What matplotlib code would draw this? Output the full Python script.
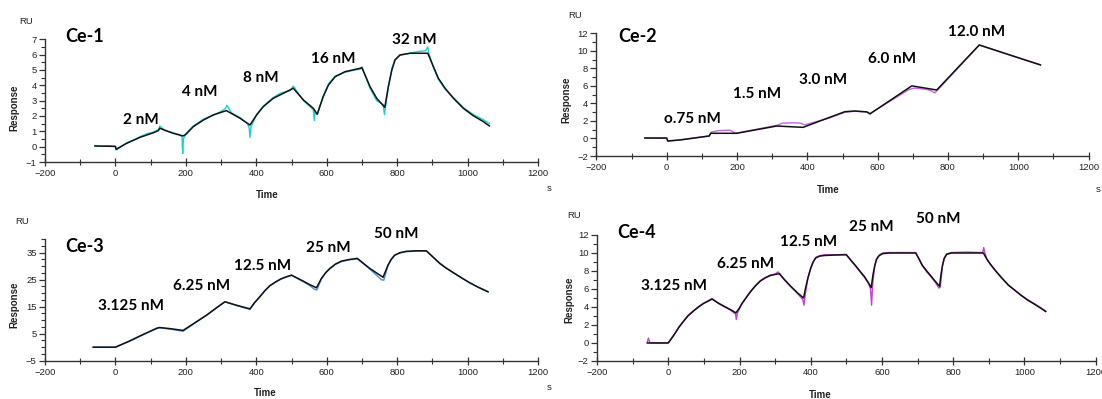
import matplotlib
matplotlib.use("Agg")
import matplotlib.pyplot as plt
from matplotlib.ticker import MultipleLocator, FixedLocator

# ---------------- data ----------------
ce1_fit_t = [-58, 0, 2, 32, 70, 108, 122, 126, 164, 192, 200, 221, 250, 278, 315, 354, 382, 401, 420, 448,
             496, 505, 534, 562, 573, 590, 605, 624, 652, 695, 700, 723, 742, 765, 775, 785, 794, 808, 837, 887,
             903, 917, 936, 960, 988, 1016, 1045, 1062]
ce1_fit_v = [0.04, 0.02, -0.17, 0.22, 0.61, 0.91, 1.05, 1.2, 0.87, 0.70, 0.80, 1.30, 1.74, 2.07, 2.35, 1.85, 1.41, 2.07, 2.61, 3.15,
             3.70, 3.81, 3.04, 2.50, 2.11, 3.26, 4.02, 4.56, 4.89, 5.11, 5.15, 3.91, 3.15, 2.57, 3.91, 5.00, 5.65, 5.98, 6.09, 6.09,
             5.22, 4.46, 3.81, 3.15, 2.50, 2.02, 1.63, 1.35]
ce1_meas_t = [-58, -40, -20, 0, 2, 10, 32, 50, 70, 90, 108, 122, 126, 140, 164, 180, 189, 191, 193, 200,
              221, 250, 278, 300, 313, 316, 330, 354, 375, 380, 382, 385, 401, 420, 448, 470, 496, 505, 534, 562,
              565, 567, 573, 590, 605, 624, 652, 680, 695, 700, 723, 742, 760, 764, 767, 775, 785, 794, 808, 837,
              860, 880, 887, 890, 903, 917, 936, 960, 988, 1016, 1045, 1062]
ce1_meas_v = [0.08, 0.02, 0.06, 0.0, -0.22, -0.1, 0.25, 0.42, 0.65, 0.85, 0.95, 1.1, 1.35, 1.05, 0.9, 0.8, 0.65, -0.45, 0.5, 0.85,
              1.35, 1.8, 2.05, 2.3, 2.5, 2.7, 2.2, 1.9, 1.5, 1.2, 0.6, 1.3, 2.1, 2.65, 3.2, 3.5, 3.65, 3.95, 3.0, 2.4,
              1.7, 2.3, 2.1, 3.3, 4.1, 4.6, 4.85, 5.0, 5.05, 5.2, 3.8, 3.0, 2.75, 2.1, 2.6, 3.9, 5.1, 5.7, 5.95, 6.1,
              6.2, 6.25, 6.5, 6.1, 5.15, 4.4, 3.75, 3.2, 2.55, 2.1, 1.75, 1.5]

ce2_fit_t = [-62, 0, 3, 38, 121, 125, 199, 313, 388, 464, 507, 535, 569, 578, 697, 705, 768, 889, 990, 1063]
ce2_fit_v = [0.05, 0.05, -0.29, -0.17, 0.28, 0.59, 0.59, 1.42, 1.27, 2.42, 3.06, 3.13, 3.03, 2.80, 6.00, 5.95, 5.53, 10.67, 9.34, 8.39]
ce2_meas_t = [-62, 0, 3, 38, 121, 128, 150, 180, 195, 200, 313, 330, 360, 380, 392, 464, 507, 535, 569, 578,
              690, 705, 740, 755, 762, 770, 889, 990, 1063]
ce2_meas_v = [0.05, 0.05, -0.3, -0.15, 0.3, 0.75, 0.9, 0.95, 0.6, 0.62, 1.5, 1.75, 1.8, 1.75, 1.55, 2.35, 3.0, 3.1, 3.05, 2.85,
              5.6, 5.75, 5.6, 5.4, 5.2, 5.5, 10.65, 9.35, 8.4]

ce3_fit_t = [-63, 0, 40, 80, 117, 125, 160, 192, 225, 259, 290, 311, 345, 382, 395, 410, 425, 438, 455, 470,
             486, 500, 533, 550, 571, 585, 597, 609, 625, 642, 665, 687, 722, 760, 774, 783, 793, 808, 826, 855,
             883, 900, 921, 940, 963, 985, 1006, 1030, 1058]
ce3_fit_v = [0.0, 0.0, 2.3, 4.8, 7.0, 7.3, 6.8, 6.2, 9.0, 11.9, 14.9, 16.8, 15.5, 14.2, 16.5, 18.7, 21.0, 22.7, 24.2, 25.3,
             26.1, 26.7, 24.5, 23.3, 22.0, 25.5, 27.6, 29.2, 30.8, 31.9, 32.5, 32.9, 29.2, 25.9, 30.4, 32.5, 34.1, 35.0, 35.5, 35.7,
             35.7, 33.6, 31.0, 29.2, 27.3, 25.5, 23.9, 22.2, 20.5]
ce3_meas_t = [-63, 0, 40, 80, 117, 125, 160, 192, 225, 259, 290, 311, 345, 382, 395, 410, 425, 438, 455, 470,
              486, 500, 533, 550, 566, 572, 585, 597, 609, 625, 642, 665, 687, 722, 755, 762, 774, 783, 793, 808,
              826, 855, 883, 900, 921, 940, 963, 985, 1006, 1030, 1058]
ce3_meas_v = [0.0, 0.0, 2.2, 4.7, 6.9, 7.2, 6.6, 5.9, 8.9, 11.8, 14.8, 16.9, 15.4, 14.0, 16.4, 18.6, 21.0, 22.8, 24.1, 25.2,
              26.0, 26.6, 24.3, 23.0, 21.4, 21.2, 25.3, 27.5, 29.0, 30.7, 31.7, 32.4, 32.7, 29.0, 25.0, 24.8, 30.2, 32.4, 34.0, 34.9,
              35.4, 35.6, 35.6, 33.7, 31.2, 29.3, 27.4, 25.6, 23.8, 22.3, 20.6]

ce4_fit_t = [-59, 0, 10, 19, 30, 42, 55, 71, 85, 99, 112, 123, 140, 156, 175, 190, 200, 207, 220, 231,
             245, 259, 273, 287, 300, 312, 325, 344, 362, 380, 385, 392, 400, 407, 414, 425, 438, 470, 500, 515,
             528, 540, 551, 562, 570, 575, 580, 585, 592, 602, 620, 695, 705, 713, 725, 737, 750, 762, 766, 770,
             775, 782, 795, 885, 895, 905, 918, 935, 955, 975, 992, 1010, 1029, 1045, 1060]
ce4_fit_v = [0.0, 0.0, 0.55, 1.07, 1.75, 2.37, 3.0, 3.56, 4.0, 4.4, 4.65, 4.88, 4.45, 4.1, 3.7, 3.35, 3.9, 4.4, 5.1, 5.7,
             6.35, 6.9, 7.25, 7.5, 7.62, 7.7, 7.1, 6.3, 5.6, 5.0, 6.0, 7.2, 8.3, 9.0, 9.45, 9.65, 9.72, 9.78, 9.8, 9.1,
             8.5, 7.9, 7.37, 6.7, 6.15, 7.6, 8.6, 9.3, 9.7, 9.93, 10.0, 10.0, 9.3, 8.67, 8.05, 7.48, 6.85, 6.3, 7.6, 8.6,
             9.4, 9.85, 10.0, 10.0, 9.3, 8.75, 8.1, 7.3, 6.44, 5.8, 5.26, 4.75, 4.3, 3.9, 3.5]
ce4_meas_t = [-59, -56, -52, -30, 0, 10, 19, 30, 42, 55, 71, 85, 99, 112, 123, 140, 156, 175, 189, 191,
              194, 200, 207, 220, 231, 245, 259, 273, 287, 300, 308, 312, 325, 344, 362, 378, 381, 384, 392, 400,
              407, 414, 425, 438, 470, 500, 515, 528, 540, 551, 562, 568, 571, 574, 580, 585, 592, 602, 620, 650,
              695, 705, 713, 725, 737, 750, 760, 764, 770, 775, 782, 795, 840, 883, 886, 889, 895, 905, 918, 935,
              955, 975, 992, 1010, 1029, 1045, 1060]
ce4_meas_v = [0.1, 0.55, 0.05, 0.0, 0.05, 0.6, 1.1, 1.8, 2.4, 3.05, 3.6, 4.05, 4.4, 4.7, 4.95, 4.4, 4.05, 3.65, 3.2, 2.6,
              3.3, 3.85, 4.35, 5.15, 5.75, 6.4, 6.95, 7.3, 7.55, 7.65, 7.9, 7.75, 7.05, 6.25, 5.55, 4.8, 4.2, 5.2, 7.2, 8.3,
              9.05, 9.5, 9.7, 9.8, 9.8, 9.85, 9.05, 8.45, 7.85, 7.3, 6.65, 6.0, 4.2, 6.5, 8.6, 9.35, 9.75, 10.0, 10.05, 10.05,
              10.05, 9.25, 8.6, 7.95, 7.4, 6.75, 6.1, 6.2, 8.5, 9.4, 9.9, 10.05, 10.1, 10.05, 10.6, 10.05, 9.3, 8.7, 8.05, 7.3,
              6.45, 5.82, 5.3, 4.8, 4.35, 3.95, 3.55]

titles = ["Ce-1", "Ce-2", "Ce-3", "Ce-4"]
ce1_conc = ["2 nM", "4 nM", "8 nM", "16 nM", "32 nM"]
ce2_conc = ["o.75 nM", "1.5 nM", "3.0 nM", "6.0 nM", "12.0 nM"]
ce3_conc = ["3.125 nM", "6.25 nM", "12.5 nM", "25 nM", "50 nM"]
ce4_conc = ["3.125 nM", "6.25 nM", "12.5 nM", "25 nM", "50 nM"]

# ---------------- layout ----------------
W, H = 1102, 399
fig = plt.figure(figsize=(W / 100, H / 100), dpi=100)
fig.patch.set_facecolor("white")

TICK_FONT = dict(family="Liberation Sans", size=6.8, color="#222222")
LAB_FONT = ["Lato", "DejaVu Sans"]

panels = [
    dict(rect=(45, 39.3, 538, 162), ylim=(-1, 7), ymaj=1, ymin=0.5, yticks0=None,
         fit=(ce1_fit_t, ce1_fit_v), meas=(ce1_meas_t, ce1_meas_v), color="#1ad0d6",
         conc=ce1_conc, conc_pos=[(71, 1.74), (239, 3.57), (413, 4.48), (619, 5.72), (848, 6.93)],
         title_px=(65, 36), ru_px=(26, 21), resp_px=(14, 108), time_px=(267, 195), s_px=(549, 189)),
    dict(rect=(596.4, 33.3, 1088.6, 156), ylim=(-2, 12), ymaj=2, ymin=1, yticks0=None,
         fit=(ce2_fit_t, ce2_fit_v), meas=(ce2_meas_t, ce2_meas_v), color="#c266e0",
         conc=ce2_conc, conc_pos=[(72, 2.22), (257, 5.08), (446, 6.68), (642, 9.1), (882, 12.18)],
         title_px=(618, 37), ru_px=(575, 15), resp_px=(566, 100), time_px=(828, 190), s_px=(1098, 190)),
    dict(rect=(45, 239.2, 538, 360.7), ylim=(-5, 40), ymaj=10, ymin=2.5, yticks0=[-5, 5, 15, 25, 35],
         fit=(ce3_fit_t, ce3_fit_v), meas=(ce3_meas_t, ce3_meas_v), color="#4a8fe0",
         conc=ce3_conc, conc_pos=[(44, 15.1), (244, 22.5), (418, 30.1), (604, 36.9), (797, 41.9)],
         title_px=(65, 246), ru_px=(22, 221), resp_px=(14, 305), time_px=(265, 393), s_px=(549, 388)),
    dict(rect=(597.1, 235, 1095.5, 361), ylim=(-2, 12), ymaj=2, ymin=1, yticks0=None,
         fit=(ce4_fit_t, ce4_fit_v), meas=(ce4_meas_t, ce4_meas_v), color="#c640d8",
         conc=ce4_conc, conc_pos=[(17, 6.28), (217, 8.83), (393, 11.17), (570, 12.94), (758, 13.78)],
         title_px=(617, 232.5), ru_px=(574, 216), resp_px=(569, 300), time_px=(820, 395), s_px=None),
]


def fx(x):
    return x / W


def fy(y):
    return 1 - y / H


for i, p in enumerate(panels):
    x0, y0, x1, y1 = p["rect"]
    ax = fig.add_axes([fx(x0), fy(y1), (x1 - x0) / W, (y1 - y0) / H])
    ax.set_facecolor("none")
    ax.plot(p["meas"][0], p["meas"][1], color=p["color"], lw=1.0, zorder=2)
    ax.plot(p["fit"][0], p["fit"][1], color="#111111", lw=1.1, zorder=3)
    ax.set_xlim(-200, 1200)
    ax.set_ylim(*p["ylim"])
    for s in ("top", "right"):
        ax.spines[s].set_visible(False)
    for s in ("left", "bottom"):
        ax.spines[s].set_color("#333333")
        ax.spines[s].set_linewidth(1.0)
    ax.xaxis.set_major_locator(MultipleLocator(200))
    ax.xaxis.set_minor_locator(MultipleLocator(100))
    if p["yticks0"] is not None:
        ax.yaxis.set_major_locator(FixedLocator(p["yticks0"]))
    else:
        ax.yaxis.set_major_locator(MultipleLocator(p["ymaj"]))
    ax.yaxis.set_minor_locator(MultipleLocator(p["ymin"]))
    ax.tick_params(axis="x", which="major", direction="inout", length=6, width=0.9, color="#333333", pad=2)
    ax.tick_params(axis="x", which="minor", direction="inout", length=4, width=0.8, color="#333333")
    ax.tick_params(axis="y", which="major", direction="out", length=4, width=0.9, color="#333333", pad=2)
    ax.tick_params(axis="y", which="minor", direction="out", length=3, width=0.8, color="#333333")
    for lab in ax.get_xticklabels() + ax.get_yticklabels():
        lab.set_fontfamily(TICK_FONT["family"])
        lab.set_fontsize(TICK_FONT["size"])
        lab.set_color(TICK_FONT["color"])

    for txt, (tx, ty) in zip(p["conc"], p["conc_pos"]):
        ax.text(tx, ty, txt, ha="center", va="center", fontsize=11, fontweight="bold",
                family=LAB_FONT, color="black", clip_on=False)

    fig.text(fx(p["title_px"][0]), fy(p["title_px"][1]), titles[i], ha="left", va="center",
             fontsize=13, fontweight="bold", family=LAB_FONT, color="black")
    fig.text(fx(p["ru_px"][0]), fy(p["ru_px"][1]), "RU", ha="center", va="center",
             fontsize=6.8, family="Liberation Sans", color="#222222")
    fig.text(fx(p["resp_px"][0]), fy(p["resp_px"][1]), "Response", ha="center", va="center",
             rotation=90, fontsize=7, fontweight="bold", family="Liberation Sans", color="#222222")
    fig.text(fx(p["time_px"][0]), fy(p["time_px"][1]), "Time", ha="center", va="center",
             fontsize=7, fontweight="bold", family="Liberation Sans", color="#222222")
    if p["s_px"] is not None:
        fig.text(fx(p["s_px"][0]), fy(p["s_px"][1]), "s", ha="center", va="center",
                 fontsize=6.8, family="Liberation Sans", color="#222222")

fig.savefig("out.png", dpi=100)
